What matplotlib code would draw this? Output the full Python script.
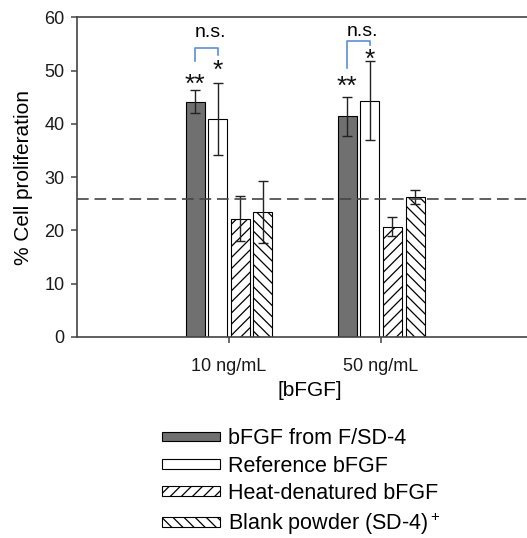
import numpy as np
import matplotlib
matplotlib.use("Agg")
import matplotlib.pyplot as plt
from matplotlib.patches import Patch

plt.rcParams['font.family'] = ['Liberation Sans', 'DejaVu Sans']
plt.rcParams['mathtext.fontset'] = 'custom'
plt.rcParams['mathtext.rm'] = 'Liberation Sans'
plt.rcParams['hatch.linewidth'] = 0.9

# data ----------------
groups = ['10 ng/mL', '50 ng/mL']
series = ['bFGF from F/SD-4', 'Reference bFGF', 'Heat-denatured bFGF', 'Blank powder (SD-4)$^+$']
means = [[44.2, 41.4],
         [40.9, 44.4],
         [22.2, 20.7],
         [23.5, 26.2]]
errs = [[2.1, 3.7],
        [6.7, 7.4],
        [4.2, 1.8],
        [5.8, 1.3]]
baseline = 25.8

colors = ['#707070', 'white', 'white', 'white']
hatches = [None, None, '///', '\\\\\\']

fig = plt.figure(figsize=(5.27, 5.38), dpi=100)
ax = fig.add_axes([0.146, 0.374, 0.854, 0.5935])

x = np.arange(len(groups))
slot = 0.149
w = 0.125
for i in range(4):
    pos = x + (i - 1.5) * slot
    ax.bar(pos, means[i], width=w, color=colors[i], edgecolor='black', linewidth=0.8,
           hatch=hatches[i], zorder=2)
    ax.errorbar(pos, means[i], yerr=errs[i], fmt='none', ecolor='#222222',
                elinewidth=1.0, capsize=3.5, capthick=1.0, zorder=3)

ax.axhline(baseline, color='#444444', lw=1.2, linestyle=(0, (7, 3.5)), zorder=4)

# significance marks
star_kw = dict(ha='center', va='center', fontsize=19, color='#111111')
ax.text(x[0] - 1.5 * slot, 47.25, '**', **star_kw)
ax.text(x[0] - 0.5 * slot, 50.05, '*', **star_kw)
ax.text(x[1] - 1.5 * slot, 46.95, '**', **star_kw)
ax.text(x[1] - 0.5 * slot, 51.95, '*', **star_kw)

blue = '#5b8fd6'
ax.plot([x[0] - 1.5 * slot, x[0] - 1.5 * slot, x[0] - 0.5 * slot, x[0] - 0.5 * slot],
        [51.8, 54.3, 54.3, 53.0], color=blue, lw=1.2, clip_on=False)
ax.plot([x[1] - 1.5 * slot, x[1] - 1.5 * slot, x[1] - 0.5 * slot, x[1] - 0.5 * slot],
        [50.5, 55.6, 55.6, 54.8], color=blue, lw=1.2, clip_on=False)
ax.text(x[0] - slot + 0.026, 57.2, 'n.s.', ha='center', va='center', fontsize=14)
ax.text(x[1] - slot + 0.024, 57.4, 'n.s.', ha='center', va='center', fontsize=14)

ax.set_xlim(-1.0, 1.96)
ax.set_ylim(0, 60)
ax.set_yticks(range(0, 61, 10))
ax.set_xticks(x)
ax.set_xticklabels(groups)
ax.tick_params(axis='both', labelsize=13, colors='#444444', labelcolor='#1a1a1a',
               direction='out', length=4, width=1.1)
ax.tick_params(axis='y', pad=5)
ax.tick_params(axis='x', pad=11)
for s in ['left', 'top', 'bottom']:
    ax.spines[s].set_color('#444444')
    ax.spines[s].set_linewidth(1.2)
ax.spines['right'].set_visible(False)

ax.set_ylabel('% Cell proliferation', fontsize=15, labelpad=8)
ax.set_xlabel('[bFGF]', fontsize=15)
ax.xaxis.set_label_coords(0.518, -0.139)

handles = [Patch(facecolor=colors[i], edgecolor='black', linewidth=0.8, hatch=hatches[i])
           for i in range(4)]
fig.legend(handles, series, loc='upper left', bbox_to_anchor=(0.307, 0.204),
           frameon=False, fontsize=15.5, handlelength=2.7, handleheight=0.33,
           handletextpad=0.37, labelspacing=0.3, borderpad=0, borderaxespad=0)

fig.savefig('out.png', dpi=100)
